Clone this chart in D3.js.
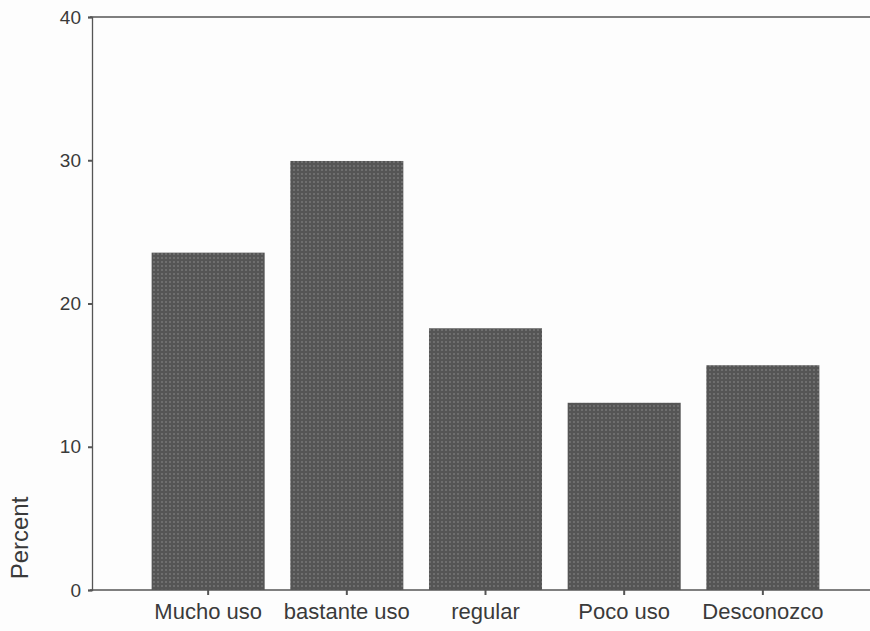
<!DOCTYPE html>
<html>
<head>
<meta charset="utf-8">
<script src="https://cdn.jsdelivr.net/npm/d3@7"></script>
<style>
  html, body { margin: 0; padding: 0; background: #fdfdfd; }
  svg { display: block; }
  text { font-family: "Liberation Sans", Arial, sans-serif; fill: #3a3a3a; }
</style>
</head>
<body>
<svg id="chart" width="870" height="631"></svg>
<script>
const categories = ["Mucho uso", "bastante uso", "regular", "Poco uso", "Desconozco"];
const percentValues = [23.55, 29.95, 18.27, 13.07, 15.69];
const yTickValues = [0, 10, 20, 30, 40];

(function () {
const svg = d3.select("#chart");
const W = 870;
const plotLeft = 92, plotTop = 17, plotBottom = 590;

const defs = svg.append("defs");
const pat = defs.append("pattern")
  .attr("id", "dots").attr("width", 4).attr("height", 4)
  .attr("patternUnits", "userSpaceOnUse");
pat.append("rect").attr("width", 4).attr("height", 4).attr("fill", "#555555");
pat.append("circle").attr("cx", 2).attr("cy", 2).attr("r", 0.8).attr("fill", "#8e8e8e");

const x = d3.scaleBand().domain(categories).range([plotLeft, 879])
  .paddingInner(0.185).paddingOuter(0.43);
const y = d3.scaleLinear().domain([0, 40]).range([plotBottom, plotTop]);

// bars
svg.append("g").selectAll("rect").data(categories).join("rect")
  .attr("x", d => x(d))
  .attr("width", x.bandwidth())
  .attr("y", (d, i) => y(percentValues[i]))
  .attr("height", (d, i) => y(0) - y(percentValues[i]))
  .attr("fill", "url(#dots)");

// frame lines
const lineColor = "#555";
svg.append("line").attr("x1", plotLeft - 2).attr("x2", W).attr("y1", y(40)).attr("y2", y(40))
  .attr("stroke", lineColor).attr("stroke-width", 1.3);
svg.append("line").attr("x1", plotLeft - 2).attr("x2", W).attr("y1", y(0)).attr("y2", y(0))
  .attr("stroke", lineColor).attr("stroke-width", 1.3);

// y axis
const yAxis = d3.axisLeft(y).tickValues(yTickValues).tickSize(4).tickPadding(7);
const gy = svg.append("g").attr("transform", `translate(${plotLeft},0)`).call(yAxis);
gy.select(".domain").attr("stroke", lineColor).attr("stroke-width", 1.3);
gy.selectAll(".tick line").attr("stroke", lineColor).attr("stroke-width", 2);
gy.selectAll(".tick text").attr("font-size", 19).attr("fill", "#3a3a3a")
  .style("font-family", "'Liberation Sans', Arial, sans-serif");

// x axis
const xAxis = d3.axisBottom(x).tickSize(5).tickPadding(8);
const gx = svg.append("g").attr("transform", `translate(0,${plotBottom})`).call(xAxis);
gx.select(".domain").remove();
gx.selectAll(".tick line").attr("stroke", lineColor).attr("stroke-width", 2);
gx.selectAll(".tick text").attr("font-size", 22).attr("fill", "#3a3a3a")
  .style("font-family", "'Liberation Sans', Arial, sans-serif");

// y axis title
svg.append("text")
  .attr("transform", "translate(28,538) rotate(-90)")
  .attr("text-anchor", "middle")
  .attr("font-size", 24)
  .text("Percent");
})();
</script>
</body>
</html>
